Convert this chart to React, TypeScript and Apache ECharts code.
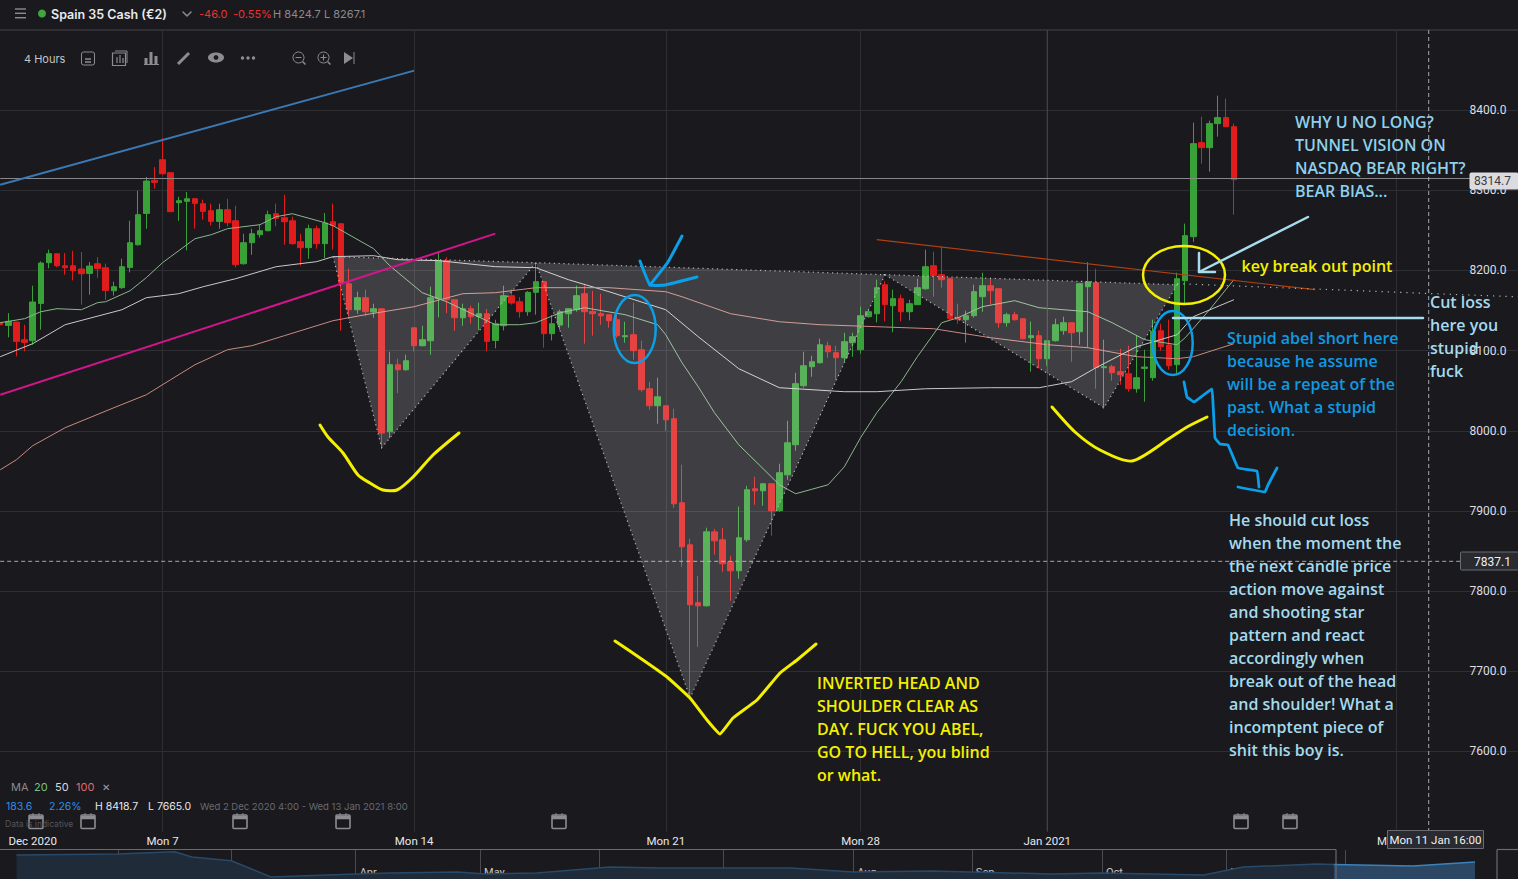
import React, { useEffect, useRef } from "react";
import * as echarts from "echarts";

// Each row: open, close, low, high
const candlesEarlyDec = [
  [8135.2,8132.3,8117.7,8144.8],[8131.4,8136.4,8116.5,8146.8],[8135.6,8111.5,8092.8,8135.6],[8113.6,8110.2,8099,8132.3],
  [8112.3,8160.6,8107.3,8181],[8158.9,8209.2,8126,8211.3],[8209.7,8220.9,8202.6,8225.9],[8220.9,8205.9,8204.2,8220.9],
  [8205.9,8203.4,8194.7,8221.7],[8205.9,8199.7,8187.6,8224.6],[8201.8,8195.9,8157.2,8223],[8196.3,8205.5,8169.7,8210.5],
  [8208.4,8202.2,8191,8216.7],[8203.4,8175.1,8163.5,8208.4],[8174.7,8179.7,8168.5,8186],[8178.5,8204.7,8177.2,8214.6],
  [8203.8,8234.6,8197.6,8262],[8232.1,8269.6,8230.9,8299.5],[8271.2,8311.6,8252.1,8316.6],[8312.4,8309.9,8302,8329],
  [8338.2,8320.7,8319,8365],[8322,8273.3,8273.3,8322],[8284.5,8287,8262,8292],[8286.2,8289.5,8225,8297.8],
  [8289.5,8283.7,8252.1,8290.4],[8283.3,8273.7,8263.3,8288.3],[8274.6,8261.2,8256.2,8283.3],[8261.2,8275.8,8252.1,8283.3],
  [8275.8,8259.6,8255,8289.5],[8262,8207.2,8203.8,8280.8],[8208.4,8234.6,8207.2,8245.8],[8234.6,8245.8,8219.6,8252.1],
  [8244.6,8249.6,8240.9,8257.1],[8249.6,8269.6,8248.8,8274.6],[8270.8,8265,8255,8283.3],[8265.8,8260.8,8232.1,8294.5],
  [8262,8233.4,8232.1,8267],[8235.9,8228.4,8205.9,8245.8],
];
const candlesMidDec = [
  [8228.4,8252.1,8214.6,8257.1],[8252.1,8233.4,8227.1,8255.8],[8233.4,8259.2,8215.5,8271.6],[8260.8,8255.8,8225.9,8283.3],
  [8258.3,8184.3,8124.8,8258.3],[8183.4,8151,8142.7,8202.2],[8151,8166,8146,8173.5],[8166,8148.5,8142.7,8176],
  [8148.1,8152.2,8141,8158.5],[8152.2,7997.1,7978.4,8152.2],[7998.7,8082.4,7990.8,8098.6],[8082.4,8076.1,8047,8089.8],
  [8076.1,8087.4,8074.9,8094.8],[8128.5,8106.1,8099,8128.5],[8106.1,8113.6,8105.2,8131],[8112.3,8166,8094.8,8179.7],
  [8164.7,8212.2,8141.4,8223.8],[8212.2,8163.5,8146.8,8216.7],[8163.5,8141,8124.8,8163.5],[8141,8152.2,8131,8158.5],
  [8152.2,8142.3,8133.5,8156],[8142.3,8146,8126,8159.7],[8146,8111.5,8099,8151.9],[8112.7,8133.5,8102.8,8138.5],
  [8131,8168.5,8125.2,8181],[8168.5,8159.3,8157.3,8176],[8161,8148.5,8141,8166.8],[8148.5,8172.7,8143.5,8174.3],
  [8172.7,8186,8144.8,8209.3],[8186,8121.1,8103.6,8186],[8121.1,8133.5,8112.7,8144.4],[8131.9,8148.5,8126,8151],
  [8146,8152.3,8128.6,8152.3],[8151,8168.5,8148.5,8181],[8171,8148.5,8108.6,8183.5],[8148.9,8146,8118.6,8174.7],
  [8146,8143.5,8132.3,8171],[8144.8,8137.3,8128.6,8144.8],
];
const candlesLateDec = [
  [8138.5,8118.6,8116.1,8144.8],[8117.3,8118.6,8109.8,8136],[8119.8,8099.9,8088.6,8159.8],[8101.1,8051.2,8048.7,8112.3],
  [8052.4,8031.2,8026.2,8061.2],[8031.2,8042.4,8008.7,8066.2],[8031.2,8013.7,8000,8031.2],[8015,7908.9,7903.9,8027.5],
  [7910.2,7855.2,7830.3,7957.6],[7857.7,7782.9,7668,7865.2],[7785.4,7781.6,7730.4,7819],[7781.6,7873.9,7780.4,7879],
  [7873.9,7862.7,7845.3,7877.7],[7864,7834,7824,7879],[7836.5,7825.3,7787.9,7844],[7825.3,7866.5,7815.3,7905.2],
  [7864,7926.4,7861.5,7931.4],[7927.6,7925.1,7907.7,7942.6],[7925.1,7933.9,7906.4,7933.9],[7933.9,7900.2,7869,7933.9],
  [7900.2,7947.6,7898.9,7958.8],[7945,7985,7938.8,8012.5],[7982.5,8058.7,7975,8072.4],[8056.2,8081.1,8053.7,8098.6],
  [8079.9,8086.1,8067.4,8093.6],[8084.9,8107.3,8083.6,8114.8],[8106.1,8098.6,8091.1,8111.1],[8097.4,8091.1,8063.7,8106.1],
  [8091.1,8111.1,8086.1,8122.3],[8109.8,8117.3,8092.4,8122.3],[8101.1,8143.5,8096.1,8154.8],[8142.3,8148.5,8141,8152.3],
];
const candlesJan = [
  [8146,8178.5,8135.2,8188.5],[8182.2,8157.3,8136.5,8186.4],[8156,8164.8,8122.8,8176],[8164.8,8148.5,8136.5,8169.8],
  [8148.5,8158.5,8137.7,8163.5],[8157.3,8178.5,8157.3,8189.7],[8177.2,8204.7,8176,8225.9],[8205.9,8193.5,8167.3,8223.4],
  [8194.7,8188.5,8178.5,8229.7],[8189.7,8139.8,8138.6,8189.7],[8141.1,8138.6,8133.6,8158.5],[8138.6,8143.6,8109.9,8149.8],
  [8143.6,8173.5,8141.1,8182.2],[8167.3,8181,8148.5,8197.2],[8181,8174.8,8157.3,8191],[8177.2,8134.8,8128.6,8177.2],
  [8134.8,8144.8,8129.8,8147.3],[8144.8,8138.6,8137.3,8148.5],[8139.8,8114.8,8113.6,8139.8],[8116.1,8118.6,8073.7,8136.1],
  [8118.6,8089.9,8077.4,8124.8],[8089.9,8112.4,8081.2,8112.4],[8112.4,8132.3,8111.1,8139.8],[8124.8,8134.8,8119.8,8142.3],
  [8134.8,8122.3,8086.1,8134.8],[8123.6,8183.5,8107.4,8183.5],[8179.7,8186,8103.2,8210.5],[8184.7,8078.7,8052.4,8202.2],
  [8078.7,8079.9,8027.5,8113.6],[8079.9,8072.4,8062.4,8082.4],[8073.7,8069.9,8057.4,8102.4],[8071.2,8052.4,8048.7,8106.1],
  [8052.4,8066.2,8047.5,8118.6],[8077.8,8079.5,8036.2,8101.1],[8066.2,8124,8062.4,8138.6],[8124.8,8104.9,8099.9,8133.6],
  [8106.9,8081.2,8076.2,8138.6],[8082.4,8189.7,8069.9,8197.2],[8187.2,8243.4,8157.3,8258.4],[8242.1,8358.2,8235.9,8384.4],
  [8359.5,8353.2,8333.2,8391.9],[8353.2,8383.2,8323.3,8386.9],[8383.2,8390.7,8366.9,8418.1],[8390.7,8379.4,8379.4,8414.4],
  [8379.4,8313.3,8269.6,8383.2],
];

// [candle index, price]
const ma20 = [[0,8134.8],[3,8139.8],[5,8148.5],[7,8152.3],[10,8151],[12,8159.8],[13,8161],[16,8174.7],[18,8191],[20,8209.7],[21,8217.2],[24,8239.6],[26,8244.6],[28,8252.1],[32,8257.1],[34,8267.1],[36,8270.8],[40,8259.6],[41,8255.9],[46,8227.2],[48,8205.9],[52,8172.2],[55,8161],[61,8132.3],[64,8132.3],[66,8134.8],[69,8147.3],[72,8153.5],[77,8144.8],[81,8132.3],[82,8119.8],[84,8084.9],[86,8054.9],[88,8022.5],[91,7982.5],[96,7932.6],[98,7921.4],[102,7932.6],[104,7955],[106,7991.3],[108,8022.5],[111,8061.2],[113,8092.4],[116,8134.8],[118,8141],[121,8154.8],[125,8162.3],[128,8153.5],[134,8148.5],[137,8134.8],[141,8113.6],[145,8107.3],[146,8116.1],[149,8151],[152,8188.5]];
const ma50 = [[0,8092.4],[4,8108.6],[8,8132.3],[15,8151],[18,8166],[22,8171],[25,8179.7],[29,8189.7],[34,8204.7],[39,8211],[41,8217.2],[46,8218.4],[49,8213.4],[54,8212.2],[61,8204.7],[66,8203.4],[70,8188.5],[75,8173.5],[82,8151],[86,8117.3],[91,8077.4],[96,8053.7],[104,8048.7],[108,8048.7],[114,8052.4],[122,8053.7],[128,8053.7],[132,8061.2],[135,8078.6],[140,8104.8],[145,8119.8],[147,8142.3],[152,8163.5]];
const ma100 = [[0,7951.3],[2,7963.8],[4,7981.3],[8,8003.8],[14,8028.7],[18,8044.9],[21,8063.7],[24,8082.4],[28,8101.1],[31,8106.1],[35,8118.6],[41,8137.3],[45,8144.8],[51,8154.8],[57,8171],[61,8172.2],[66,8178.5],[75,8178.5],[82,8173.5],[84,8167.2],[90,8146],[96,8136],[101,8132.3],[108,8129.8],[115,8127.3],[122,8116.1],[129,8107.4],[134,8103.6],[140,8092.4],[145,8089.9],[147,8092.4],[152,8108.6]];

// Chart drawings, as [candle index, price]
const trendBlue = [[0,8307],[51,8449.3]];
const trendMagenta = [[0,8045],[61,8245.9]];
const trendOrange = [[108,8238.4],[162,8176]];
const trendDotted = [[145,8183.5],[187,8167]];
const lastPrice = 8314.7;
const crosshairPrice = 7837.1;
const crosshairIndex = 176;
const priceLastLine = [[0,lastPrice],[187,lastPrice]];
const priceCrossLine = [[0,crosshairPrice],[187,crosshairPrice]];
const crossVertical = [[crosshairIndex,8500],[crosshairIndex,7500]];
const janLine = [[129,8500],[129,7500]];
const shoulderHead = [
  [[41,8217.2],[47,7978.8],[66,8209.7]],
  [[66,8209.7],[85,7666.8],[109,8194.7]],
  [[109,8194.7],[136,8028.7],[145,8182.2]],
];

const xTickLabels: Record<number, string> = { 4: "Dec 2020", 20: "Mon 7", 51: "Mon 14", 82: "Mon 21", 106: "Mon 28", 129: "Jan 2021", 172: "Mon 11" };
const xGridTicks = [20, 51, 82, 106, 129, 172];
const categoryCount = 188;
const yTicksMin = 7500;
const yTicksMax = 8500;

// Overview strip
const navMonthLabels: Record<number, string> = { 0: "2020", 18: "Feb", 38: "Mar", 60: "Apr", 82: "May", 103: "Jun", 125: "Jul", 148: "Aug", 169: "Sep", 192: "Oct", 214: "Nov", 235: "Dec" };
const navCount = 259;
const navHistory = [[0,9310],[18,9448],[28,9765],[31,9034],[38,8524],[45,6276],[50,6414],[60,6690],[66,6827],[78,6965],[83,6690],[92,6827],[105,7655],[114,7517],[126,7517],[137,7517],[148,6965],[162,7103],[183,6690],[192,6827],[210,6552],[217,7655],[230,8069],[233,8000]];
const navSelected = [[233,8000],[247,7793],[258,8345]];

// Annotation texts
const yellowNote = ["INVERTED HEAD AND", "SHOULDER CLEAR AS", "DAY. FUCK YOU ABEL,", "GO TO HELL, you blind", "or what."];
const whyNote = ["WHY U NO LONG?", "TUNNEL VISION ON", "NASDAQ BEAR RIGHT?", "BEAR BIAS..."];
const cutNote = ["Cut loss", "here you", "stupid", "fuck"];
const abelNote = ["Stupid abel short here", "because he assume", "will be a repeat of the", "past. What a stupid", "decision."];
const lessonNote = ["He should cut loss", "when the moment the", "the next candle price", "action move against", "and shooting star", "pattern and react", "accordingly when", "break out of the head", "and shoulder! What a", "incomptent piece of", "shit this boy is."];
const calendarX = [36, 88, 240, 343, 559, 1241, 1290];

const BG = "#19191e";
const GRID = "#2e2e33";
const UI = '"Inter", "Noto Sans", sans-serif';
const NOTE_FONT = '600 16px "Open Sans", sans-serif';

function noteLines(lines: string[], x: number, y0: number, fill: string) {
  return lines.map((text, k) => ({
    type: "text", z: 120, x, y: y0 + k * 23,
    style: { text, fill, font: NOTE_FONT, verticalAlign: "middle", align: "left" },
  }));
}
function label(text: string, x: number, y: number, fill: string, font = `11px ${UI}`, align = "left") {
  return { type: "text", z: 120, x, y, style: { text, fill, font, verticalAlign: "middle", align } };
}
function stroke(points: number[][], color: string, lineWidth: number, smooth = 0.25) {
  return { type: "polyline", z: 110, shape: { points, smooth }, style: { stroke: color, lineWidth, fill: "none", lineCap: "round", lineJoin: "round" } };
}
function ring(cx: number, cy: number, rx: number, ry: number, color: string) {
  return { type: "ellipse", z: 110, shape: { cx, cy, rx, ry }, style: { stroke: color, lineWidth: 2.5, fill: "none" } };
}
function seg(x1: number, y1: number, x2: number, y2: number, color: string, lineWidth = 1, z = 60) {
  return { type: "line", z, shape: { x1, y1, x2, y2 }, style: { stroke: color, lineWidth } };
}

function buildGraphics() {
  const icon = "#8c8c92";
  const els: any[] = [
    // header
    seg(0, 29.5, 1518, 29.5, GRID),
    seg(15, 9, 26, 9, icon, 1.4), seg(15, 13.3, 26, 13.3, icon, 1.4), seg(15, 17.7, 26, 17.7, icon, 1.4),
    { type: "circle", z: 60, shape: { cx: 42, cy: 13.5, r: 4 }, style: { fill: "#3ea83e" } },
    label("Spain 35 Cash (€2)", 51, 14, "#e8eaee", `600 12.5px ${UI}`),
    stroke([[183, 12], [187, 16], [191, 12]], icon, 1.5, 0),
    label("-46.0", 199, 14, "#f03030", `11px ${UI}`),
    label("-0.55%", 233, 14, "#f03030", `11px ${UI}`),
    label("H 8424.7", 273, 14, "#8b8b92", `11px ${UI}`),
    label("L 8267.1", 324, 14, "#8b8b92", `11px ${UI}`),
    // toolbar
    label("4 Hours", 24, 59, "#c4c4c8", `11px ${UI}`),
    { type: "rect", z: 60, shape: { x: 81.5, y: 52, width: 13, height: 13, r: 2 }, style: { fill: "none", stroke: icon, lineWidth: 1 } },
    seg(85, 59, 91, 59, icon, 1.5), seg(85, 62, 91, 62, icon, 1.5),
    { type: "rect", z: 60, shape: { x: 112.5, y: 53, width: 13, height: 12.5 }, style: { fill: "none", stroke: icon, lineWidth: 1.2 } },
    seg(115, 51, 127, 51, icon, 1), seg(127, 51, 127, 63, icon, 1),
    seg(117, 57, 117, 63, icon, 1.2), seg(120, 55, 120, 63, icon, 1.2), seg(123, 58, 123, 63, icon, 1.2),
    seg(146, 58, 146, 64, icon, 3), seg(151, 52, 151, 64, icon, 3), seg(156, 56, 156, 64, icon, 3), seg(144, 64.5, 159, 64.5, icon, 1),
    seg(178, 64, 189, 53, icon, 3),
    { type: "ellipse", z: 60, shape: { cx: 216, cy: 57.5, rx: 8, ry: 5 }, style: { fill: icon } },
    { type: "circle", z: 61, shape: { cx: 216, cy: 57.5, r: 2.4 }, style: { fill: BG } },
    { type: "circle", z: 60, shape: { cx: 242.5, cy: 58, r: 1.7 }, style: { fill: icon } },
    { type: "circle", z: 60, shape: { cx: 248, cy: 58, r: 1.7 }, style: { fill: icon } },
    { type: "circle", z: 60, shape: { cx: 253.5, cy: 58, r: 1.7 }, style: { fill: icon } },
    { type: "circle", z: 60, shape: { cx: 298.5, cy: 57.5, r: 5.5 }, style: { fill: "none", stroke: icon, lineWidth: 1 } },
    seg(295.5, 57.5, 301.5, 57.5, icon, 1), seg(302.5, 61.5, 305.5, 64.5, icon, 1.5),
    { type: "circle", z: 60, shape: { cx: 323.5, cy: 57.5, r: 5.5 }, style: { fill: "none", stroke: icon, lineWidth: 1 } },
    seg(320.5, 57.5, 326.5, 57.5, icon, 1), seg(323.5, 54.5, 323.5, 60.5, icon, 1), seg(327.5, 61.5, 330.5, 64.5, icon, 1.5),
    { type: "polygon", z: 60, shape: { points: [[344, 52], [353, 58], [344, 64]] }, style: { fill: icon } },
    seg(354, 52, 354, 64, icon, 1),
    // footer info
    label("MA", 11, 787, "#8a8a90", `11px ${UI}`),
    label("20", 34, 787, "#7cc07c", `11px ${UI}`),
    label("50", 55, 787, "#d8d8dc", `11px ${UI}`),
    label("100", 76, 787, "#e06a6a", `11px ${UI}`),
    label("✕", 102, 787, "#a0a0a6", `10px ${UI}`),
    label("183.6", 6, 806.5, "#2f8fe6", `10.5px ${UI}`),
    label("2.26%", 49, 806.5, "#2f8fe6", `10.5px ${UI}`),
    label("H 8418.7", 95, 806.5, "#e8e8ec", `10.5px ${UI}`),
    label("L 7665.0", 148, 806.5, "#e8e8ec", `10.5px ${UI}`),
    label("Wed 2 Dec 2020 4:00 - Wed 13 Jan 2021 8:00", 200, 806.5, "#6a6a72", `9.5px ${UI}`),
    label("Data is indicative", 5, 824, "#55555c", `8.5px ${UI}`),
    // price tags
    { type: "rect", z: 115, shape: { x: 1469.5, y: 172.5, width: 49, height: 17, r: 2 }, style: { fill: "#dcdce0" } },
    label("8314.7", 1474, 181, "#3a3a40", `12px Roboto`),
    { type: "rect", z: 115, shape: { x: 1460.5, y: 552, width: 58, height: 18, r: 1 }, style: { fill: "#2a2a31", stroke: "#6a6a72", lineWidth: 1 } },
    label("7837.1", 1474, 561.5, "#f0f0f2", `12px Roboto`),
    // crosshair date tag
    { type: "rect", z: 115, shape: { x: 1387.5, y: 830.5, width: 96, height: 18 }, style: { fill: "#2a2a31", stroke: "#6a6a72", lineWidth: 1 } },
    label("Mon 11 Jan 16:00", 1435.5, 840, "#f0f0f2", `11.5px Roboto`, "center"),
    // overview strip frame
    seg(0, 849.5, 1336, 849.5, "#6a6a72", 1.2),
    seg(1336, 849.5, 1336, 879, "#6a6a72", 1.2),
    seg(1497, 849.5, 1518, 849.5, "#6a6a72", 1.2),
    seg(1497, 849.5, 1497, 879, "#6a6a72", 1.2),
    // hand drawn marks
    stroke([[320,425],[328,437],[343,453],[358,475],[370,483],[383,490],[397,490],[413,477],[433,455],[459,433]], "#f4f000", 3),
    stroke([[615,641],[643,660],[667,677],[690,698],[707,720],[720,734],[733,718],[757,700],[780,673],[797,660],[816,644]], "#f4f000", 3, 0.1),
    stroke([[1052,407],[1075,432],[1100,450],[1132,461],[1170,438],[1187,427],[1207,417]], "#f4f000", 3),
    ring(1184, 275, 41, 29, "#f4f000"),
    ring(634.7, 329, 21, 34, "#0a9fe8"),
    ring(1172.7, 343, 20, 32, "#0a9fe8"),
    stroke([[682,236],[668,262],[650,285]], "#0a9fe8", 3, 0.1),
    stroke([[640,261],[650,285],[665,285],[697,277]], "#0a9fe8", 3, 0.1),
    stroke([[1184,382],[1187,397],[1194,402],[1212,389],[1213,403],[1215,438],[1220,444],[1228,445],[1238,468],[1257,471],[1259,487]], "#0a9fe8", 2.8, 0.05),
    stroke([[1238,487],[1265,492],[1268,485],[1277,468]], "#0a9fe8", 2.8, 0.05),
    stroke([[1308,217],[1199,272]], "#a8dcec", 2.5, 0),
    stroke([[1199,253],[1199,272],[1215,272]], "#a8dcec", 2.5, 0),
    stroke([[1173,318],[1423,318]], "#a8dcec", 2.5, 0),
    // notes
    ...noteLines(yellowNote, 817, 683, "#f4f000"),
    ...noteLines(whyNote, 1295, 122, "#8fd0ea"),
    ...noteLines(["key break out point"], 1241.5, 266, "#f4f000"),
    ...noteLines(cutNote, 1430, 302, "#a5daed"),
    ...noteLines(abelNote, 1227, 338, "#0f9ae2"),
    ...noteLines(lessonNote, 1229, 520, "#a5daed"),
  ];
  calendarX.forEach((cx) => {
    els.push({ type: "rect", z: 60, shape: { x: cx - 7, y: 815, width: 14, height: 13.5, r: 1 }, style: { fill: "none", stroke: "#8c8c92", lineWidth: 1.6 } });
    els.push(seg(cx - 7, 817.5, cx + 7, 817.5, "#8c8c92", 3.5));
    els.push(seg(cx - 3, 813, cx - 3, 816, "#8c8c92", 1));
    els.push(seg(cx + 3, 813, cx + 3, 816, "#8c8c92", 1));
  });
  return els;
}

function guide(name: string, data: number[][], color: string, width = 1, type: any = "solid", z = 4) {
  return {
    name, type: "line", data, showSymbol: false, symbol: "none", silent: true, z,
    lineStyle: { color, width, type },
  };
}

export default function App() {
  const ref = useRef<HTMLDivElement>(null);
  useEffect(() => {
    document.body.style.margin = "0";
    document.body.style.background = BG;
    const chart = echarts.init(ref.current!, undefined, { renderer: "svg" });
    const candles = [...candlesEarlyDec, ...candlesMidDec, ...candlesLateDec, ...candlesJan];
    const categories = Array.from({ length: categoryCount }, (_, i) => xTickLabels[i] ?? "");
    const navCategories = Array.from({ length: navCount }, (_, i) => navMonthLabels[i] ?? "");
    const isNavTick = (i: number) => navMonthLabels[i] !== undefined;
    chart.setOption({
      animation: false,
      backgroundColor: BG,
      textStyle: { fontFamily: UI },
      graphic: { elements: buildGraphics() },
      grid: [
        { left: 0.2, top: 30, width: 8.139 * (categoryCount - 1), height: 801.5, containLabel: false },
        { left: 16.5, top: 850, width: 1458.5, height: 29, containLabel: false },
      ],
      xAxis: [
        {
          type: "category", gridIndex: 0, data: categories, boundaryGap: false,
          axisLine: { show: false }, axisTick: { show: false },
          axisLabel: {
            interval: (i: number) => xTickLabels[i] !== undefined,
            color: "#e8e8ec", fontFamily: "Roboto", fontSize: 11.5, margin: 3, hideOverlap: false,
          },
          splitLine: { show: true, interval: (i: number) => xGridTicks.includes(i), lineStyle: { color: GRID, width: 1 } },
        },
        {
          type: "category", gridIndex: 1, data: navCategories, boundaryGap: false,
          axisLine: { show: false }, axisTick: { show: false },
          axisLabel: {
            inside: true, interval: (i: number) => isNavTick(i), align: "left", padding: [0, 0, 0, 4],
            color: "#c8c8cc", fontFamily: "Roboto", fontSize: 11, margin: 1, hideOverlap: false,
          },
          splitLine: { show: true, interval: (i: number) => isNavTick(i) && i > 0, lineStyle: { color: "#4a4a50", width: 1 } },
        },
      ],
      yAxis: [
        {
          type: "value", gridIndex: 0, position: "right", min: yTicksMin, max: yTicksMax, interval: 100,
          axisLine: { show: false }, axisTick: { show: false },
          axisLabel: {
            inside: true, margin: 11.5, showMinLabel: false, showMaxLabel: false,
            color: "#dedee2", fontFamily: "Roboto", fontSize: 12,
            formatter: (v: number) => v.toFixed(1),
          },
          splitLine: { show: true, showMinLine: false, lineStyle: { color: GRID, width: 1 } },
        },
        { type: "value", gridIndex: 1, min: 6000, max: 10000, show: false },
      ],
      series: [
        {
          name: "Spain 35 Cash", type: "candlestick", data: candles, barWidth: 6, clip: true, z: 3,
          itemStyle: { color: "#38a238", color0: "#e01c1c", borderColor: "#38a238", borderColor0: "#e01c1c", borderWidth: 1 },
        },
        guide("MA 20", ma20, "#8db58d"),
        guide("MA 50", ma50, "#c9c9cc"),
        guide("MA 100", ma100, "#c98a82"),
        guide("Jan line", janLine, "#47474c"),
        guide("Last price", priceLastLine, "#8a8a8e"),
        guide("Crosshair price", priceCrossLine, "#a8a8ac", 1, [4, 3]),
        guide("Crosshair time", crossVertical, "#a8a8ac", 1, [4, 3]),
        {
          name: "Pattern", type: "custom", data: shoulderHead.map((_, i) => [i]), z: 5, silent: true, clip: false,
          renderItem: (params: any, api: any) => ({
            type: "polygon",
            shape: { points: shoulderHead[params.dataIndex].map((p) => api.coord(p)) },
            style: { fill: "rgba(255,255,255,0.17)", stroke: "#b4b4b8", lineWidth: 1.2, lineDash: [1.2, 3.6] },
          }),
        },
        guide("Trend blue", trendBlue, "#3a79b4", 2, "solid", 6),
        guide("Trend magenta", trendMagenta, "#d4148c", 2, "solid", 6),
        guide("Trend orange", trendOrange, "#b3400f", 1.2, "solid", 6),
        guide("Trend dotted", trendDotted, "#b4b4b8", 1.2, [1.2, 5], 6),
        {
          name: "Overview", type: "line", xAxisIndex: 1, yAxisIndex: 1, data: navHistory, symbol: "none", silent: true,
          lineStyle: { color: "#284a68", width: 1.5 }, areaStyle: { color: "#1f2b39", opacity: 1 },
        },
        {
          name: "Overview selected", type: "line", xAxisIndex: 1, yAxisIndex: 1, data: navSelected, symbol: "none", silent: true,
          lineStyle: { color: "#3a82bd", width: 1.5 }, areaStyle: { color: "#2b4763", opacity: 1 },
        },
      ],
    });
    return () => chart.dispose();
  }, []);
  return <div ref={ref} style={{ position: "absolute", left: 0, top: 0, width: 1518, height: 879 }} />;
}
